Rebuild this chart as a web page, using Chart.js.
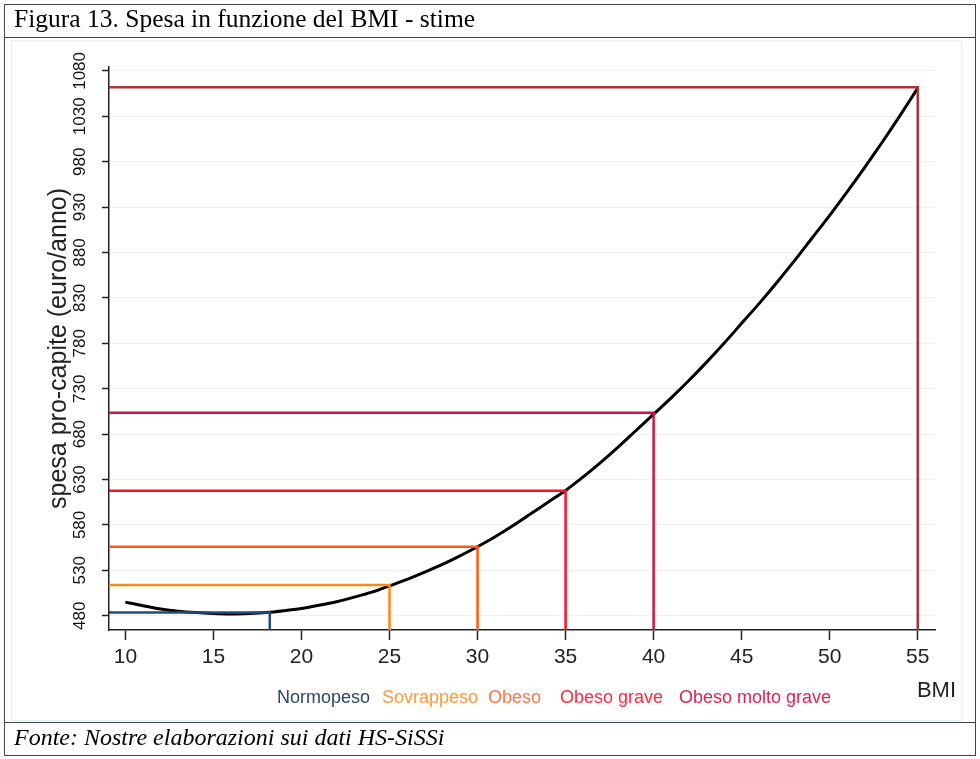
<!DOCTYPE html>
<html>
<head>
<meta charset="utf-8">
<title>Figura 13</title>
<script src="https://cdn.jsdelivr.net/npm/chart.js@4.4.1/dist/chart.umd.min.js"></script>
<style>
  html, body { margin: 0; padding: 0; background: #fff; }
  body { width: 980px; height: 759px; position: relative; overflow: hidden; }
  #frame { position: absolute; left: 4px; top: 4px; width: 972px; height: 752px; border: 1.5px solid #444; box-sizing: border-box; }
  #sep1 { position: absolute; left: 4px; top: 37px; width: 972px; border-top: 1.5px solid #444; }
  #sep2 { position: absolute; left: 4px; top: 722px; width: 972px; border-top: 1.5px solid #444; }
  #plotbg { position: absolute; left: 11px; top: 40px; width: 951px; height: 681px; border: 1px solid #e8eef6; box-sizing: border-box; }
  #title { position: absolute; left: 14px; top: 4px; font-family: "Liberation Serif", "Times New Roman", serif; font-size: 25.5px; color: #000; white-space: nowrap; }
  #source { position: absolute; left: 14px; top: 724px; font-family: "Liberation Serif", "Times New Roman", serif; font-style: italic; font-size: 24px; color: #000; white-space: nowrap; }
  #box { position: absolute; left: 0; top: 0; width: 980px; height: 759px; }
</style>
</head>
<body>
<div id="plotbg"></div>
<div id="box"><canvas id="grafico"></canvas></div>
<div id="frame"></div>
<div id="sep1"></div>
<div id="sep2"></div>
<div id="title">Figura 13. Spesa in funzione del BMI - stime</div>
<div id="source">Fonte: Nostre elaborazioni sui dati HS-SiSSi</div>
<script>
// curva stimata: spesa pro-capite per valore di BMI
const bmi = [10, 11, 12, 13, 14, 15, 16, 17, 18, 19, 20, 21, 22, 23, 24, 25, 26, 27, 28, 29, 30, 31, 32,
             33, 34, 35, 36, 37, 38, 39, 40, 41, 42, 43, 44, 45, 46, 47, 48, 49, 50, 51, 52, 53, 54, 55];
const spesa = [495, 491, 487.5, 485, 483.5, 482.5, 482, 482.5, 483.5, 485.5, 488, 491.5, 495.5, 500.5, 506,
               513, 520, 528, 536.5, 546, 556, 567, 579, 592, 605, 618, 633, 649, 666, 684, 702,
               720, 739, 759, 780, 802, 824, 847, 871, 896, 921, 947, 974, 1002, 1031, 1061];

// soglie delle classi di BMI e spesa corrispondente
const classi = ["Normopeso", "Sovrappeso", "Obeso", "Obeso grave", "Obeso molto grave", ""];
const sogliaBmi = [18.2, 25, 30, 35, 40, 55];
const sogliaSpesa = [483.7, 513.8, 556, 617.7, 703.6, 1062];

const xTicks = [10, 15, 20, 25, 30, 35, 40, 45, 50, 55];
const yTicks = [480, 530, 580, 630, 680, 730, 780, 830, 880, 930, 980, 1030, 1080];

const xMin = 9.07, xMax = 55.98;
const yMin = 464.3, yMax = 1084.3;

const coloriLinee = ["#1f4e7a", "#ff8a10", "#ff5a14", "#ff1028", "#d0144a", "#a4363c"];
const coloriTesto = ["#2f4466", "#ff9a3a", "#ff7446", "#ff2a40", "#dc2458", "#a4363c"];
const legendaX = [277, 382, 488, 560, 679];

const datasets = [];
for (let i = 0; i < sogliaBmi.length; i++) {
    datasets.push({
        label: classi[i],
        data: [
            {x: xMin, y: sogliaSpesa[i]},
            {x: sogliaBmi[i], y: sogliaSpesa[i]},
            {x: sogliaBmi[i], y: yMin}
        ],
        borderColor: coloriLinee[i],
        borderWidth: 2.5,
        pointRadius: 0,
        tension: 0,
        order: 0
    });
}
datasets.push({
    label: "spesa",
    data: bmi.map((b, i) => ({x: b, y: spesa[i]})),
    borderColor: "#000",
    borderWidth: 3,
    pointRadius: 0,
    tension: 0.3,
    order: 1
});

const legendaPlugin = {
    id: "legenda",
    afterDraw(chart) {
        const ctx = chart.ctx;
        ctx.save();
        ctx.font = '18px "Liberation Sans", Arial, sans-serif';
        ctx.textBaseline = "alphabetic";
        ctx.textAlign = "left";
        for (let i = 0; i < legendaX.length; i++) {
            ctx.fillStyle = coloriTesto[i];
            ctx.fillText(classi[i], legendaX[i], 703);
        }
        ctx.font = '22px "Liberation Sans", Arial, sans-serif';
        ctx.fillStyle = "#222";
        ctx.textAlign = "right";
        ctx.fillText("BMI", 956, 697);
        ctx.restore();
    }
};

new Chart(document.getElementById("grafico"), {
    type: "line",
    data: { datasets: datasets },
    plugins: [legendaPlugin],
    options: {
        responsive: true,
        maintainAspectRatio: false,
        animation: false,
        layout: { padding: { left: 44, top: 67, right: 45, bottom: 0 } },
        plugins: {
            legend: { display: false },
            tooltip: { enabled: false }
        },
        scales: {
            x: {
                type: "linear",
                min: xMin,
                max: xMax,
                afterBuildTicks: s => { s.ticks = xTicks.map(v => ({value: v})); },
                afterFit: s => { s.height = 129; },
                grid: { drawOnChartArea: false, tickColor: "#222", tickLength: 10, tickWidth: 1.5 },
                border: { color: "#222", width: 1.5 },
                ticks: {
                    autoSkip: false,
                    maxRotation: 0,
                    padding: 5,
                    color: "#222",
                    font: { family: "'Liberation Sans', Arial, sans-serif", size: 21 },
                    callback: v => v
                }
            },
            y: {
                type: "linear",
                min: yMin,
                max: yMax,
                afterBuildTicks: s => { s.ticks = yTicks.map(v => ({value: v})); },
                afterFit: s => { s.width = 65; },
                grid: { color: "#edf1f8", lineWidth: 1, tickColor: "#222", tickLength: 7, tickWidth: 1.5 },
                border: { color: "#222", width: 1.5 },
                ticks: {
                    autoSkip: false,
                    minRotation: 90,
                    maxRotation: 90,
                    crossAlign: "center",
                    padding: 3,
                    color: "#111",
                    font: { family: "'Liberation Sans', Arial, sans-serif", size: 17 },
                    callback: v => v
                },
                title: {
                    display: true,
                    text: "spesa pro-capite (euro/anno)",
                    color: "#222",
                    padding: { top: 0, bottom: 0 },
                    font: { family: "'Liberation Sans', Arial, sans-serif", size: 25 }
                }
            }
        }
    }
});
</script>
</body>
</html>
